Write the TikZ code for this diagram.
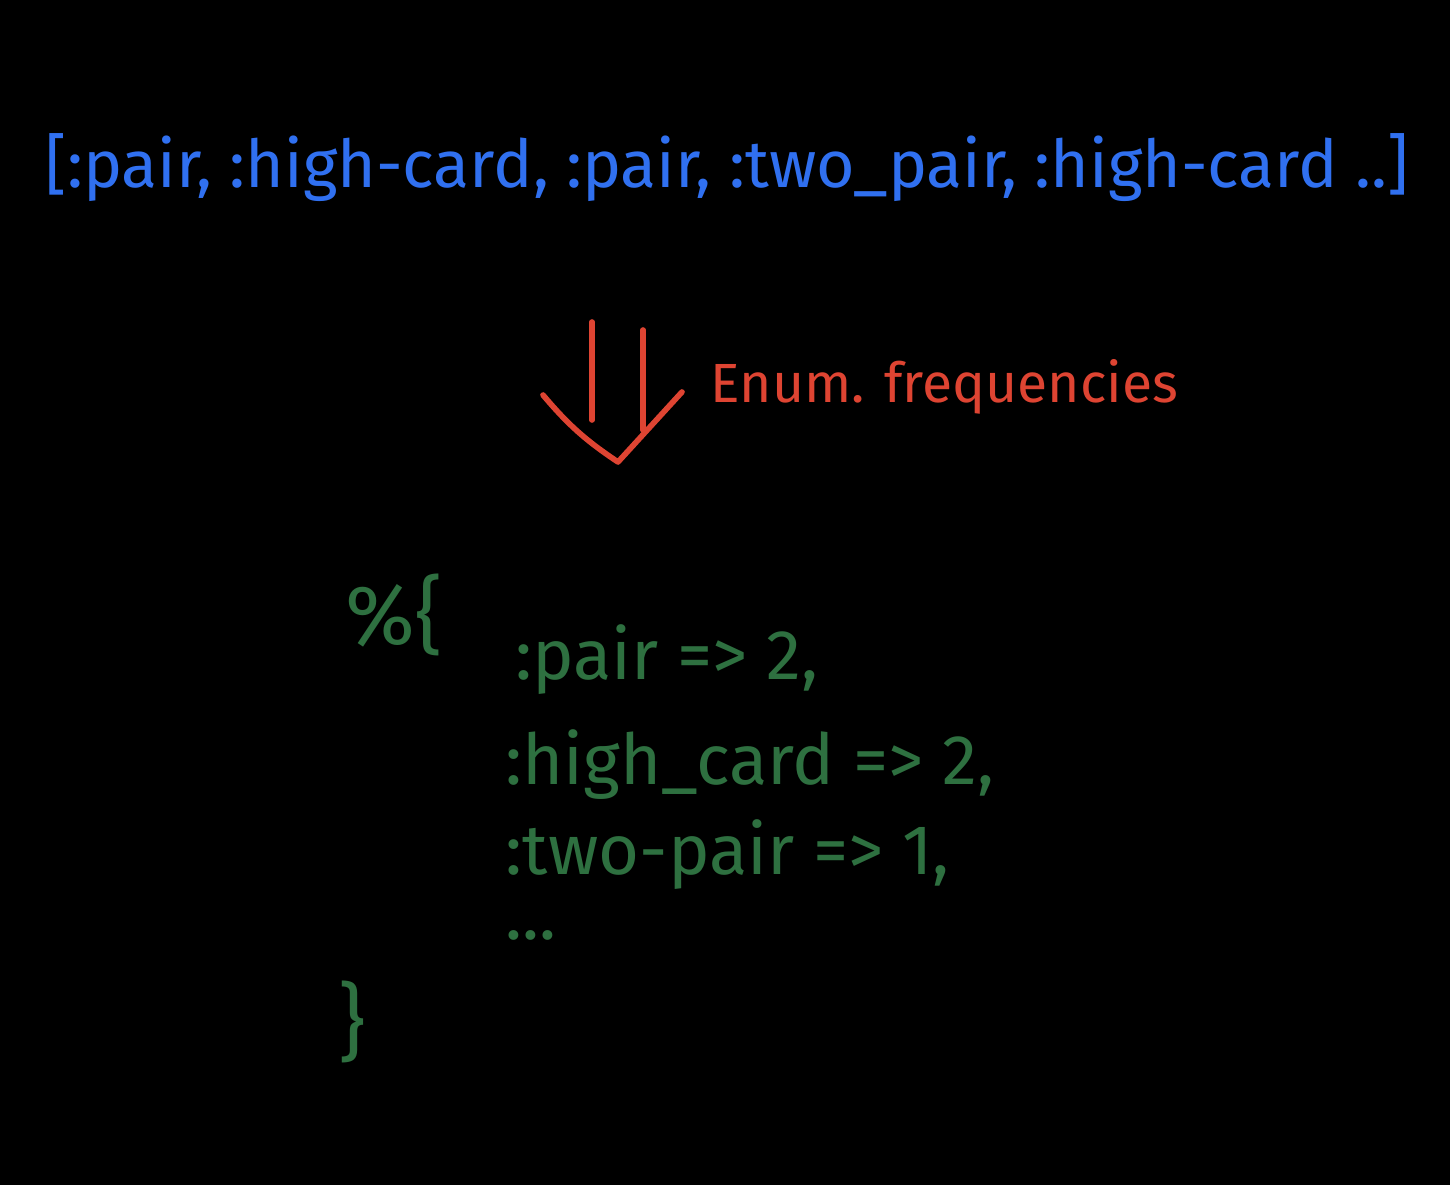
\documentclass[tikz,border=0pt]{standalone}
\usepackage{fontspec}
\setmainfont{Fira Sans}
\definecolor{listblue}{RGB}{48,112,240}
\definecolor{enumred}{RGB}{222,68,50}
\definecolor{mapgreen}{RGB}{46,112,64}
\begin{document}
\begin{tikzpicture}[x=0.01cm,y=-0.01cm,
  listtext/.style={text=listblue, font=\fontsize{18.8}{22}\selectfont, inner sep=0pt},
  freqtext/.style={text=enumred, font=\fontsize{15.7}{19}\selectfont, inner sep=0pt},
  maptext/.style={text=mapgreen, font=\fontsize{20}{24}\selectfont, inner sep=0pt},
  bracetext/.style={maptext, font=\fontsize{24}{28}\selectfont},
  freqarrow/.style={enumred, line width=1.6pt, line cap=round, line join=round}]
\fill[black] (0,0) rectangle (1450,1185);
\useasboundingbox (0,0) rectangle (1450,1185);
% input list
\node[listtext, anchor=base west] (list) at (45,188) {[:pair, :high-card, :pair, :two\_pair, :high-card ..]};
% arrow
\coordinate (shaftL) at (592,322);
\coordinate (shaftR) at (643,330);
\coordinate (wingL) at (543,395);
\coordinate (wingR) at (682,392);
\coordinate (arrowtip) at (618,462);
\draw[freqarrow] (shaftL) -- ++(0,98);
\draw[freqarrow] (shaftR) -- ++(0,100);
\draw[freqarrow] (wingL) to[bend right=8] (arrowtip) -- (wingR);
\node[freqtext, anchor=base west] (freq) at (710,403) {Enum. frequencies};
% result map
\node[bracetext, anchor=base west] (open) at (345,645) {\%\{};
\node[maptext, anchor=base west] (pair) at (515,680) {:pair => 2,};
\node[maptext, anchor=base west] (high) at (505,785) {:high\_card => 2,};
\node[maptext, anchor=base west] (two) at (505,875) {:two-pair => 1,};
\node[maptext, anchor=base west] (dots) at (505,940) {...};
\node[bracetext, anchor=base west] (close) at (338,1052) {\}};
\end{tikzpicture}
\end{document}
